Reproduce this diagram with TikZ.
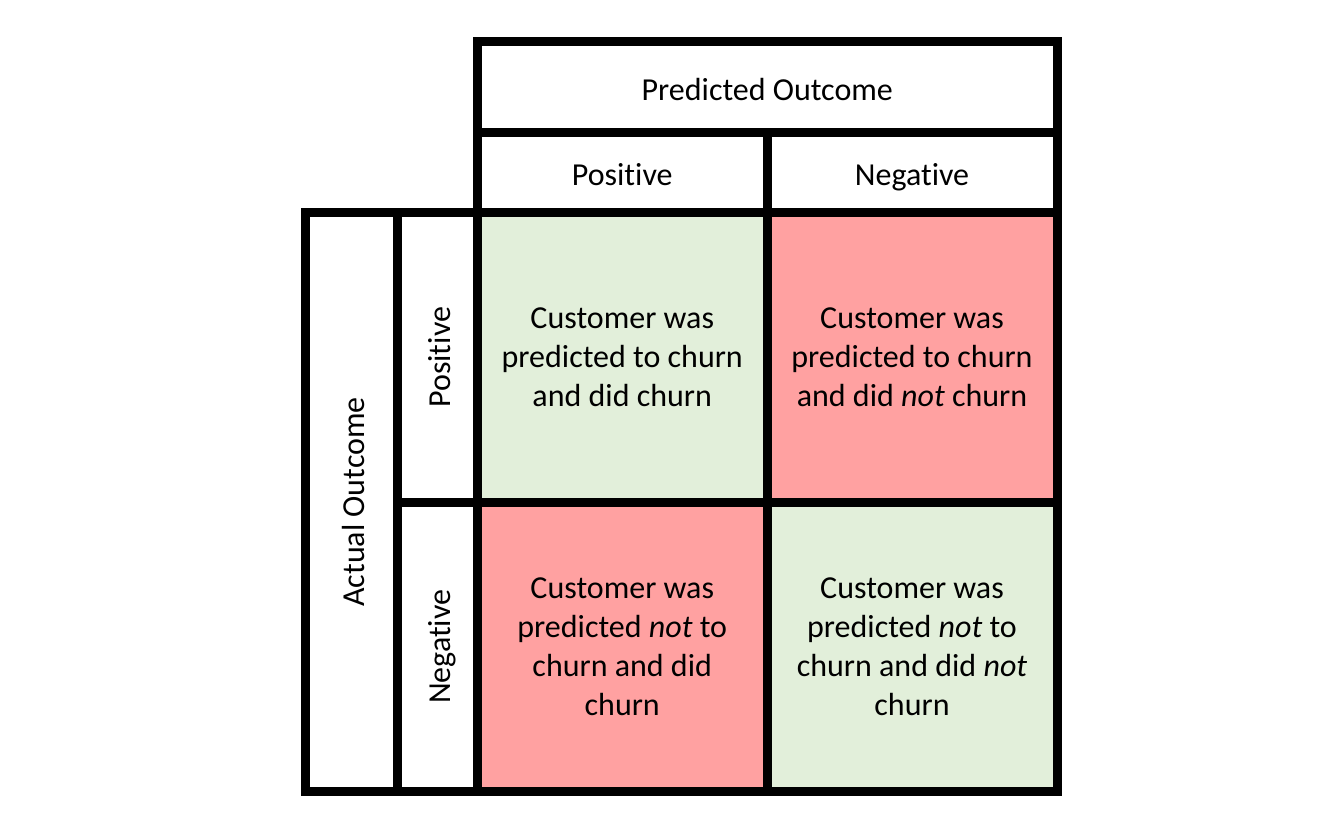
\documentclass[tikz,border=0pt]{standalone}
\usepackage{fontspec}
\setmainfont{Carlito}[Ligatures=NoCommon]
\definecolor{cellgreen}{RGB}{226,239,218}
\definecolor{cellred}{RGB}{255,161,161}
\begin{document}
\begin{tikzpicture}[x=1pt,y=-1pt,
  cell/.style={draw=black,line width=9pt,inner sep=0pt,align=center,
    font=\fontsize{32}{39}\selectfont},
  hdr/.style={cell,fill=white,text height=26pt,text depth=0pt},
  good/.style={cell,fill=cellgreen},
  bad/.style={cell,fill=cellred}]
\useasboundingbox (0,0) rectangle (1324,812);
\fill[white] (0,0) rectangle (1324,812);
% header
\node[hdr,minimum width=579.5pt,minimum height=91pt] (pred) at (767.25,87) {Predicted Outcome};
\node[hdr,minimum width=289.5pt,minimum height=80pt] (ppos) at (622.25,172.5) {Positive};
\node[hdr,minimum width=290pt,minimum height=80pt] (pneg) at (912,172.5) {Negative};
% left side
\node[hdr,rotate=90,minimum width=579pt,minimum height=92pt] (actual) at (351,502) {Actual Outcome};
\node[hdr,rotate=90,minimum width=289.5pt,minimum height=80.5pt] (apos) at (437.25,357.25) {Positive};
\node[hdr,rotate=90,minimum width=289.5pt,minimum height=80.5pt] (aneg) at (437.25,646.75) {Negative};
% cells
\node[good,minimum width=289.5pt,minimum height=289.5pt] (tp) at (622.25,357.25)
  {Customer was\\predicted to churn\\and did churn};
\node[bad,minimum width=290pt,minimum height=289.5pt] (fn) at (912,357.25)
  {Customer was\\predicted to churn\\and did \textit{not} churn};
\node[bad,minimum width=289.5pt,minimum height=289.5pt] (fp) at (622.25,646.75)
  {Customer was\\predicted \textit{not} to\\churn and did\\churn};
\node[good,minimum width=290pt,minimum height=289.5pt] (tn) at (912,646.75)
  {Customer was\\predicted \textit{not} to\\churn and did \textit{not}\\churn};
\end{tikzpicture}
\end{document}
